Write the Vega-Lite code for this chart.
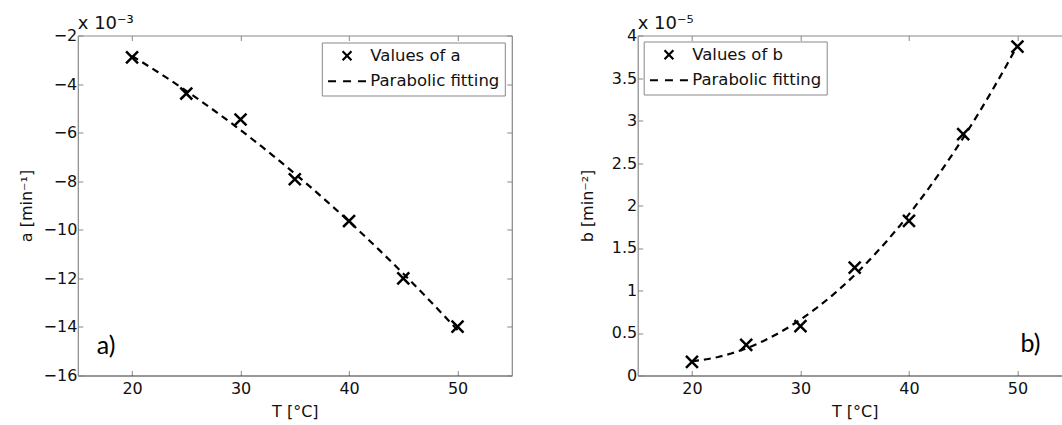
{
  "$schema": "https://vega.github.io/schema/vega-lite/v6.json",
  "background": "white",
  "padding": {"left": 17.8, "top": 14.5, "right": 0, "bottom": 0},
  "config": {
    "font": "DejaVu Sans",
    "view": {"stroke": null},
    "axis": {
      "labelFont": "DejaVu Sans", "labelFontSize": 16, "labelColor": "#111",
      "titleFont": "DejaVu Sans", "titleFontSize": 16, "titleFontWeight": "normal", "titleColor": "#111",
      "grid": false, "tickColor": "#888", "tickSize": -5, "tickWidth": 1,
      "domainColor": "#888", "domainWidth": 1.2
    },
    "legend": {
      "labelFont": "DejaVu Sans", "labelFontSize": 16.5, "labelColor": "#111",
      "strokeColor": "#888", "fillColor": "white", "padding": 5,
      "symbolSize": 160, "symbolStrokeWidth": 2.2, "symbolStrokeColor": "black",
      "symbolFillColor": "transparent", "symbolOffset": 12, "labelOffset": 15, "rowPadding": 7.5
    },
    "title": {"font": "DejaVu Sans", "fontSize": 18, "fontWeight": "normal", "color": "#111", "anchor": "start", "frame": "group", "baseline": "alphabetic", "offset": -5}
  },
  "datasets": {
    "a": [
      {"T": 20, "a": -2.9, "series": "Values of a"},
      {"T": 25, "a": -4.39, "series": "Values of a"},
      {"T": 30, "a": -5.46, "series": "Values of a"},
      {"T": 35, "a": -7.92, "series": "Values of a"},
      {"T": 40, "a": -9.64, "series": "Values of a"},
      {"T": 45, "a": -12.0, "series": "Values of a"},
      {"T": 50, "a": -13.99, "series": "Values of a"}
    ],
    "b": [
      {"T": 20, "b": 0.16, "series": "Values of b"},
      {"T": 25, "b": 0.36, "series": "Values of b"},
      {"T": 30, "b": 0.58, "series": "Values of b"},
      {"T": 35, "b": 1.27, "series": "Values of b"},
      {"T": 40, "b": 1.82, "series": "Values of b"},
      {"T": 45, "b": 2.84, "series": "Values of b"},
      {"T": 50, "b": 3.87, "series": "Values of b"}
    ]
  },
  "spacing": 65.9,
  "resolve": {"scale": {"shape": "independent"}, "legend": {"shape": "independent"}},
  "hconcat": [
    {
      "width": 434, "height": 340,
      "title": {"text": "x 10⁻³"},
      "layer": [
        {
          "data": {"name": "a"},
          "transform": [{"regression": "a", "on": "T", "method": "poly", "order": 2, "extent": [20, 50]}],
          "mark": {"type": "line", "color": "black", "strokeDash": [7, 5], "strokeWidth": 2.2},
          "encoding": {
            "x": {"field": "T", "type": "quantitative", "scale": {"domain": [15, 55], "nice": false, "zero": false},
                  "axis": {"orient": "top", "labels": false, "title": null, "values": [20, 30, 40, 50]}},
            "y": {"field": "a", "type": "quantitative", "scale": {"domain": [-16, -2], "nice": false, "zero": false},
                  "axis": {"orient": "right", "labels": false, "title": null, "values": [-16, -14, -12, -10, -8, -6, -4, -2]}}
          }
        },
        {
          "data": {"name": "a"},
          "mark": {"type": "point", "filled": false, "size": 290, "strokeWidth": 2.5, "color": "black", "opacity": 1},
          "encoding": {
            "x": {"field": "T", "type": "quantitative",
                  "axis": {"orient": "bottom", "values": [20, 30, 40, 50], "title": "T [°C]", "labelPadding": 10, "titlePadding": 7, "domainColor": "#333"}},
            "y": {"field": "a", "type": "quantitative",
                  "axis": {"orient": "left", "values": [-16, -14, -12, -10, -8, -6, -4, -2], "format": ".1~f", "title": "a [min⁻¹]", "labelPadding": 6, "titlePadding": 8.8}},
            "shape": {"field": "series", "type": "nominal",
                      "scale": {"domain": ["Values of a", "Parabolic fitting"],
                                "range": ["M-0.7,-0.7L0.7,0.7M-0.7,0.7L0.7,-0.7", "M-3,0L-1.74,0M-0.63,0L0.63,0M1.74,0L3,0"]},
                      "legend": {"orient": "top-right", "offset": 7, "title": null}}
          }
        },
        {
          "data": {"values": [{"label": "a)"}]},
          "mark": {"type": "text", "font": "Lato", "fontSize": 25, "color": "black"},
          "encoding": {
            "x": {"datum": 17.6, "type": "quantitative", "axis": null},
            "y": {"datum": -14.8, "type": "quantitative", "axis": null},
            "text": {"field": "label"}
          }
        }
      ],
      "resolve": {"axis": {"x": "independent", "y": "independent"}}
    },
    {
      "width": 434, "height": 340,
      "title": {"text": "x 10⁻⁵"},
      "layer": [
        {
          "data": {"name": "b"},
          "transform": [{"regression": "b", "on": "T", "method": "poly", "order": 2, "extent": [20, 50]}],
          "mark": {"type": "line", "color": "black", "strokeDash": [7, 5], "strokeWidth": 2.2},
          "encoding": {
            "x": {"field": "T", "type": "quantitative", "scale": {"domain": [15, 55], "nice": false, "zero": false},
                  "axis": {"orient": "top", "labels": false, "title": null, "values": [20, 30, 40, 50]}},
            "y": {"field": "b", "type": "quantitative", "scale": {"domain": [0, 4], "nice": false, "zero": false},
                  "axis": {"orient": "right", "labels": false, "title": null, "values": [0, 0.5, 1, 1.5, 2, 2.5, 3, 3.5, 4]}}
          }
        },
        {
          "data": {"name": "b"},
          "mark": {"type": "point", "filled": false, "size": 290, "strokeWidth": 2.5, "color": "black", "opacity": 1},
          "encoding": {
            "x": {"field": "T", "type": "quantitative",
                  "axis": {"orient": "bottom", "values": [20, 30, 40, 50], "title": "T [°C]", "labelPadding": 10, "titlePadding": 7, "domainColor": "#333"}},
            "y": {"field": "b", "type": "quantitative",
                  "axis": {"orient": "left", "values": [0, 0.5, 1, 1.5, 2, 2.5, 3, 3.5, 4], "format": ".1~f", "title": "b [min⁻²]", "labelPadding": 6, "titlePadding": 15.8}},
            "shape": {"field": "series", "type": "nominal",
                      "scale": {"domain": ["Values of b", "Parabolic fitting"],
                                "range": ["M-0.7,-0.7L0.7,0.7M-0.7,0.7L0.7,-0.7", "M-3,0L-1.74,0M-0.63,0L0.63,0M1.74,0L3,0"]},
                      "legend": {"orient": "top-left", "offset": 6, "title": null}}
          }
        },
        {
          "data": {"values": [{"label": "b)"}]},
          "mark": {"type": "text", "font": "Lato", "fontSize": 25, "color": "black"},
          "encoding": {
            "x": {"datum": 51.2, "type": "quantitative", "axis": null},
            "y": {"datum": 0.37, "type": "quantitative", "axis": null},
            "text": {"field": "label"}
          }
        }
      ],
      "resolve": {"axis": {"x": "independent", "y": "independent"}}
    }
  ]
}
